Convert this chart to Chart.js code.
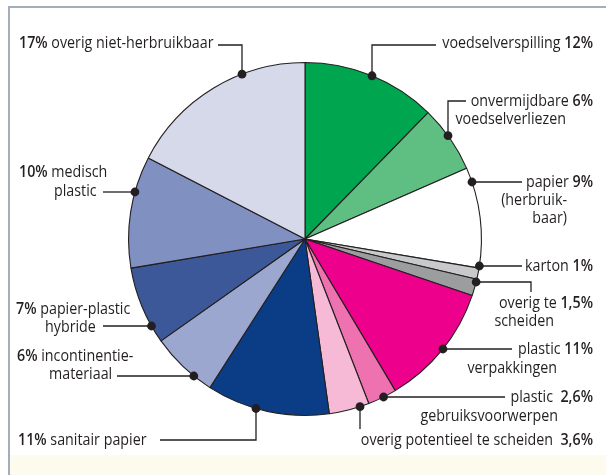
<!DOCTYPE html>
<html>
<head>
<meta charset="utf-8">
<script src="https://cdn.jsdelivr.net/npm/chart.js@4"></script>
<style>
  body { margin: 0; background: #fff; }
  #wrap { width: 606px; height: 475px; }
</style>
</head>
<body>
<div id="wrap"><canvas id="afval" width="606" height="475"></canvas></div>
<script>
'use strict'

// categories, clockwise from the top
const categories = [
  'voedselverspilling',
  'onvermijdbare voedselverliezen',
  'papier (herbruikbaar)',
  'karton',
  'overig te scheiden',
  'plastic verpakkingen',
  'plastic gebruiksvoorwerpen',
  'overig potentieel te scheiden',
  'sanitair papier',
  'incontinentiemateriaal',
  'papier-plastic hybride',
  'medisch plastic',
  'overig niet-herbruikbaar'
];
const shares = [12, 6, 9, 1, 1.5, 11, 2.6, 3.6, 11, 6, 7, 10, 17];

const sliceColors = [
  '#00a54f', '#5fbf82', '#ffffff', '#c8c9cb', '#9c9d9f', '#ec008c', '#ef72b0',
  '#f6bad7', '#0b3d86', '#9ba7cf', '#3c5899', '#8090c1', '#d5d9ea'
];

const FONT = '"Open Sans", sans-serif';
const FSIZE = 17;
const SX = 0.84;   // squeeze text, the original uses a condensed face
const INK = '#231f20';

// label layout: text lines (plain part + percent), anchor, leader path.
// the last leader point is found on the pie edge: 'v' = straight up/down, 'h' = sideways
const labelLayout = [
  { lines: [['voedselverspilling ', '12%']], align: 'right', x: 593, y: [43],
    path: [[436, 45], [372, 45]], end: 'v' },
  { lines: [['onvermijdbare ', '6%'], ['voedselverliezen', '']], align: 'right', x: [593, 566], y: [101, 119],
    path: [[466, 101], [448, 101]], end: 'v' },
  { lines: [['papier ', '9%'], ['(herbruik-', ''], ['baar)', '']], align: 'right', x: [593, 567, 567], y: [182, 200, 218],
    path: [[522, 182]], end: 'h' },
  { lines: [['karton ', '1%']], align: 'right', x: 593, y: [266],
    path: [[522, 266]], end: 'h' },
  { lines: [['overig te ', '1,5%'], ['scheiden', '']], align: 'right', x: [593, 554], y: [303, 321],
    path: [[531, 292], [531, 282]], end: 'h' },
  { lines: [['plastic ', '11%'], ['verpakkingen', '']], align: 'right', x: [593, 557], y: [349, 368],
    path: [[512, 349]], end: 'h' },
  { lines: [['plastic  ', '2,6%'], ['gebruiksvoorwerpen', '']], align: 'right', x: [593, 558], y: [397, 416],
    path: [[505, 397]], end: 'h' },
  { lines: [['overig potentieel te scheiden  ', '3,6%']], align: 'right', x: 593, y: [440],
    path: [[360, 429]], end: 'v' },
  { lines: [['', '11%', ' sanitair papier']], align: 'left', x: 18, y: [440],
    path: [[160, 440], [256, 440]], end: 'v' },
  { lines: [['', '6%', ' incontinentie-'], ['materiaal', '']], align: 'left', x: [17, 49], y: [356, 374],
    path: [[117, 376]], end: 'h' },
  { lines: [['', '7%', ' papier-plastic'], ['hybride', '']], align: 'left', x: [16, 45], y: [309, 327],
    path: [[103, 326]], end: 'h' },
  { lines: [['', '10%', ' medisch'], ['plastic', '']], align: 'left', x: [19, 54], y: [172, 191],
    path: [[103, 192]], end: 'h' },
  { lines: [['', '17%', ' overig niet-herbruikbaar']], align: 'left', x: 19, y: [43],
    path: [[218, 45], [242, 45]], end: 'v' }
];

// helper: text line made of plain / bold pieces
function drawLine(ctx, parts, x, y, align) {
  // parts for right labels: [text, pct]; left labels: ['', pct, text]
  let pieces = [];
  if (parts.length === 3) {
    pieces = [[parts[1], true], [parts[2], false]];
  } else {
    pieces = [[parts[0], false], [parts[1], true]];
  }
  let widths = pieces.map(p => {
    ctx.font = (p[1] ? '600 ' : '400 ') + FSIZE + 'px ' + FONT;
    return ctx.measureText(p[0]).width * SX;
  });
  let total = widths.reduce((a, b) => a + b, 0);
  let xs = align === 'right' ? x - total : x;
  for (let i = 0; i < pieces.length; i++) {
    ctx.font = (pieces[i][1] ? '600 ' : '400 ') + FSIZE + 'px ' + FONT;
    ctx.save();
    ctx.translate(xs, y);
    ctx.scale(SX, 1);
    ctx.fillText(pieces[i][0], 0, 0);
    ctx.restore();
    xs += widths[i];
  }
}

const framePlugin = {
  id: 'frame',
  beforeDraw(chart) {
    const ctx = chart.ctx;
    ctx.save();
    ctx.fillStyle = '#ffffff';
    ctx.fillRect(0, 0, chart.width, chart.height);
    ctx.fillStyle = '#fdfaee';
    ctx.fillRect(10, 455, chart.width - 10, chart.height - 455);
    ctx.strokeStyle = '#a4aebb';
    ctx.lineWidth = 2;
    ctx.beginPath();
    ctx.moveTo(9, chart.height);
    ctx.lineTo(9, 7);
    ctx.lineTo(chart.width, 7);
    ctx.stroke();
    ctx.restore();
  }
};

const calloutPlugin = {
  id: 'callouts',
  afterDraw(chart) {
    const ctx = chart.ctx;
    const arc = chart.getDatasetMeta(0).data[0];
    const cx = arc.x, cy = arc.y, r = arc.outerRadius;
    ctx.save();
    ctx.fillStyle = INK;
    ctx.strokeStyle = INK;
    ctx.lineWidth = 1.3;
    ctx.textBaseline = 'middle';
    labelLayout.forEach(lab => {
      lab.lines.forEach((ln, i) => {
        const x = Array.isArray(lab.x) ? lab.x[i] : lab.x;
        drawLine(ctx, ln, x, lab.y[i], lab.align);
      });
      const last = lab.path[lab.path.length - 1];
      let dot;
      if (lab.end === 'v') {
        const dy = Math.sqrt(Math.max(0, r * r - (last[0] - cx) ** 2));
        dot = [last[0], last[1] < cy ? cy - dy : cy + dy];
      } else {
        const dx = Math.sqrt(Math.max(0, r * r - (last[1] - cy) ** 2));
        dot = [last[0] < cx ? cx - dx : cx + dx, last[1]];
      }
      ctx.beginPath();
      ctx.moveTo(lab.path[0][0], lab.path[0][1]);
      for (let i = 1; i < lab.path.length; i++) ctx.lineTo(lab.path[i][0], lab.path[i][1]);
      ctx.lineTo(dot[0], dot[1]);
      ctx.stroke();
      ctx.beginPath();
      ctx.arc(dot[0], dot[1], 4.4, 0, Math.PI * 2);
      ctx.fill();
    });
    ctx.restore();
  }
};

let ctx = document.getElementById('afval').getContext('2d');
let afvalChart = new Chart(ctx, {
  type: 'pie',
  data: {
    labels: categories,
    datasets: [{
      data: shares,
      backgroundColor: sliceColors,
      borderColor: INK,
      borderWidth: 1.1
    }]
  },
  options: {
    responsive: false,
    animation: false,
    layout: { padding: { top: 62, bottom: 59, left: 4, right: 0 } },
    plugins: {
      legend: { display: false },
      tooltip: { enabled: false }
    }
  },
  plugins: [framePlugin, calloutPlugin]
});
</script>
</body>
</html>
